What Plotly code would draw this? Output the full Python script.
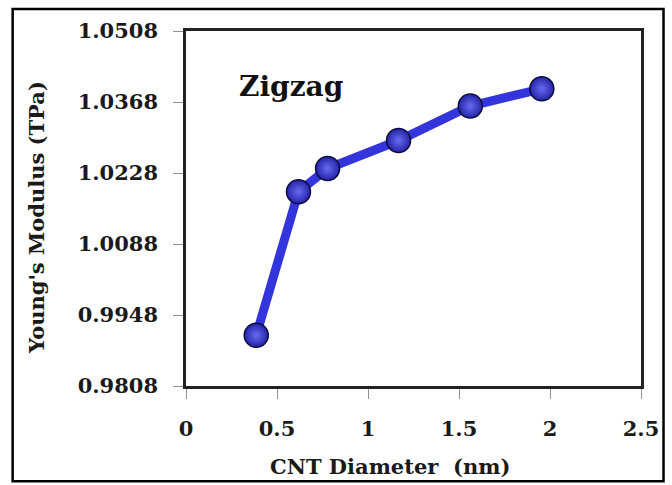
import plotly.graph_objects as go

# Data
diameter_nm = [0.386, 0.618, 0.778, 1.168, 1.562, 1.955]
youngs_modulus_tpa = [0.9908, 1.0191, 1.0237, 1.0292, 1.0360, 1.0394]
y_tick_vals = [0.9808, 0.9948, 1.0088, 1.0228, 1.0368, 1.0508]
y_tick_text = ["0.9808", "0.9948", "1.0088", "1.0228", "1.0368", "1.0508"]
x_tick_vals = [0, 0.5, 1, 1.5, 2, 2.5]
x_tick_text = ["0", "0.5", "1", "1.5", "2", "2.5"]
series_label = "Zigzag"
x_title = "CNT Diameter  (nm)"
y_title = "Young's Modulus (TPa)"

FONT = "DejaVu Serif"

fig = go.Figure()
fig.add_trace(go.Scatter(
    x=diameter_nm, y=youngs_modulus_tpa,
    mode="lines+markers",
    line=dict(color="#3434dc", width=9),
    marker=dict(size=24, color="#2424a8",
                gradient=dict(type="radial", color="#6a6af2"),
                line=dict(color="#0c0c40", width=1.5)),
    showlegend=False,
))

fig.update_layout(
    width=672, height=485,
    margin=dict(l=186, r=31, t=31, b=99),
    paper_bgcolor="white", plot_bgcolor="white",
    font=dict(family=FONT, color="#1a1a1a"),
    xaxis=dict(
        range=[0, 2.5], tickvals=x_tick_vals, ticktext=x_tick_text,
        showgrid=False, zeroline=False, automargin=False,
        showline=True, linecolor="#222222", linewidth=2.5, mirror=True,
        ticks="outside", ticklen=10, tickcolor="#909090", tickwidth=1,
        ticklabelstandoff=12,
        tickfont=dict(family=FONT, size=21, weight="bold"),
    ),
    yaxis=dict(
        range=[0.9808, 1.0508], tickvals=y_tick_vals, ticktext=y_tick_text,
        showgrid=False, zeroline=False, automargin=False,
        showline=True, linecolor="#222222", linewidth=2.5, mirror=True,
        ticks="outside", ticklen=10, tickcolor="#909090", tickwidth=1,
        ticklabelstandoff=11,
        tickfont=dict(family=FONT, size=21, weight="bold"),
    ),
    annotations=[
        dict(text=series_label, xref="paper", yref="paper",
             x=0.112, y=0.845, xanchor="left", yanchor="middle",
             showarrow=False,
             font=dict(family=FONT, size=28, weight="bold", color="#111111")),
        dict(text=x_title, xref="paper", yref="paper",
             x=0.448, y=-0.228, xanchor="center", yanchor="middle",
             showarrow=False,
             font=dict(family=FONT, size=21, weight="bold", color="#1a1a1a")),
        dict(text=y_title, xref="paper", yref="paper",
             x=-0.3297, y=0.476, xanchor="center", yanchor="middle",
             textangle=-90, showarrow=False,
             font=dict(family=FONT, size=21, weight="bold", color="#1a1a1a")),
    ],
    shapes=[dict(
        type="rect", xref="paper", yref="paper",
        x0=-0.381, x1=1.0495, y0=-0.268, y1=1.062,
        line=dict(color="black", width=2.5), layer="below",
    )],
)

fig.write_html("out.html")
